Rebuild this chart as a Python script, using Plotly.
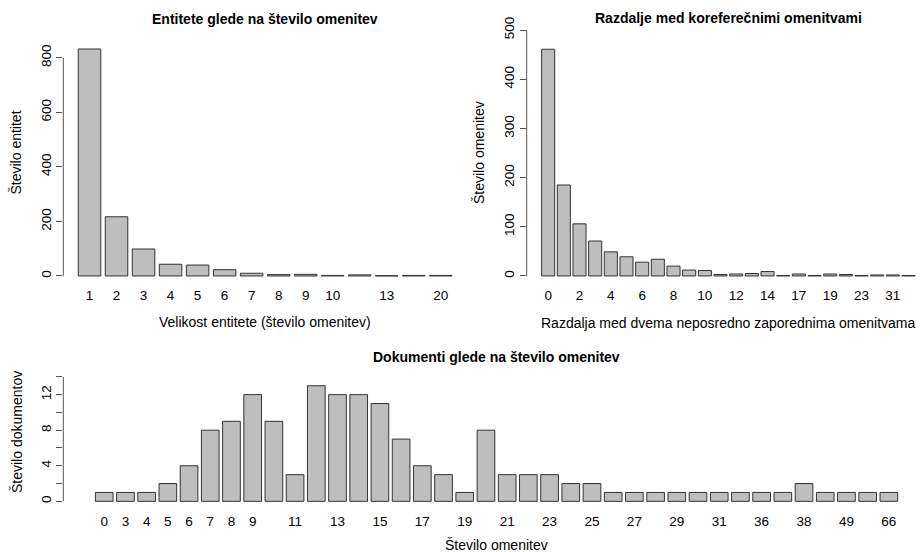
import plotly.graph_objects as go

W, H = 920, 552

# ---------------- data ----------------
ent_sizes = ["1", "2", "3", "4", "5", "6", "7", "8", "9", "10", "11", "13", "16", "20"]
ent_counts = [832, 217, 99, 43, 40, 23, 10, 5, 6, 2, 4, 1, 2, 2]
ent_labels = ["1", "2", "3", "4", "5", "6", "7", "8", "9", "10", "13", "20"]

dist_vals = [str(i) for i in range(15)] + ["16", "17", "18", "19", "21", "23", "26", "31", "42"]
dist_counts = [461, 185, 106, 71, 49, 39, 28, 34, 20, 12, 11, 3, 4, 5, 9,
               1, 4, 1, 4, 3, 1, 2, 2, 1]
dist_labels = ["0", "2", "4", "6", "8", "10", "12", "14", "17", "19", "23", "31"]

doc_mentions = ["0", "3", "4", "5", "6", "7", "8", "9"] + [str(i) for i in range(10, 32)] + \
               ["33", "36", "37", "38", "44", "49", "55", "66"]
doc_counts = [1, 1, 1, 2, 4, 8, 9, 12,
              9, 3, 13, 12, 12, 11, 7, 4, 3, 1, 8, 3, 3, 3, 2, 2, 1, 1, 1, 1, 1, 1,
              1, 1, 1, 2, 1, 1, 1, 1]
doc_labels = ["0", "3", "4", "5", "6", "7", "8", "9", "11", "13", "15", "17", "19", "21",
              "23", "25", "27", "29", "31", "36", "38", "49", "66"]

ent_yticks = [0, 200, 400, 600, 800]
dist_yticks = [0, 100, 200, 300, 400, 500]
doc_yticks = [0, 4, 8, 12]
doc_yminor = [0, 2, 4, 6, 8, 10, 12, 14]

# ---------------- styling ----------------
FONT = "Liberation Sans, Arial, Helvetica, sans-serif"
BAR_FILL = "#BEBEBE"
BAR_LINE = "#333333"
AX_COL = "#555555"
TICK_FS = 13.5
LAB_FS = 14
MAIN_FS = 14


def xrange_dom(n, px0, px1, clip=W):
    span = n - 1 + 5 / 6
    lo = -5 / 12 - 0.04 * span
    hi = n - 1 + 5 / 12 + 0.04 * span
    if px1 > clip:
        hi = lo + (hi - lo) * (clip - px0) / (px1 - px0)
        px1 = clip
    return [lo, hi], [px0 / W, px1 / W]


def ydom(top_px, bot_px):
    return [1 - bot_px / H, 1 - top_px / H]


fig = go.Figure()

panels = [
    dict(cats=ent_sizes, vals=ent_counts, labels=ent_labels, xpx=(63.3, 467.0),
         yrange=[-36, 936], ypx=(20.6, 285.8), yticks=ent_yticks, minor=None, ax="", top=800),
    dict(cats=dist_vals, vals=dist_counts, labels=dist_labels, xpx=(526.7, 930.0),
         yrange=[-20, 520], ypx=(20.2, 285.8), yticks=dist_yticks, minor=None, ax="2", top=500),
    dict(cats=doc_mentions, vals=doc_counts, labels=doc_labels, xpx=(63.3, 929.8),
         yrange=[-1.12, 15.3], ypx=(365.3, 511.3), yticks=doc_yticks, minor=doc_yminor, ax="3", top=14),
]

shapes = []
for p in panels:
    ax = p["ax"]
    xr, xd = xrange_dom(len(p["cats"]), *p["xpx"])
    fig.add_trace(go.Bar(
        x=p["cats"], y=p["vals"], xaxis="x" + ax, yaxis="y" + ax,
        marker=dict(color=BAR_FILL, line=dict(color=BAR_LINE, width=1)),
        showlegend=False, hoverinfo="x+y"))
    xkey = "xaxis" + ax
    ykey = "yaxis" + ax
    fig.layout[xkey] = dict(
        type="category", categoryorder="array", categoryarray=p["cats"],
        range=xr, domain=xd, anchor="y" + ax, automargin=False,
        tickmode="array", tickvals=p["labels"], ticktext=p["labels"],
        showline=False, showgrid=False, zeroline=False, ticks="",
        tickfont=dict(family=FONT, size=TICK_FS, color="#000"),
        fixedrange=True)
    ydict = dict(
        range=p["yrange"], domain=ydom(*p["ypx"]), anchor="x" + ax, automargin=False,
        tickmode="array", tickvals=p["yticks"], ticktext=[str(v) for v in p["yticks"]],
        tickangle=-90, ticks="outside", ticklen=6, tickcolor=AX_COL, tickwidth=1,
        showline=False, showgrid=False, zeroline=False,
        tickfont=dict(family=FONT, size=TICK_FS, color="#000"),
        fixedrange=True)
    if p["minor"]:
        ydict["minor"] = dict(tickvals=p["minor"], ticks="outside", ticklen=6,
                              tickcolor=AX_COL, tickwidth=1, showgrid=False)
    fig.layout[ykey] = ydict
    shapes.append(dict(type="line", xref="x" + ax + " domain", yref="y" + ax,
                       x0=0, x1=0, y0=0, y1=p["top"],
                       line=dict(color=AX_COL, width=1)))


def ann(text, xpx, ypx, size, bold=False, angle=0):
    return dict(text=("<b>%s</b>" % text) if bold else text,
                xref="paper", yref="paper", x=xpx / W, y=1 - ypx / H,
                xanchor="center", yanchor="middle", showarrow=False, textangle=angle,
                font=dict(family=FONT, size=size, color="#000"))


annotations = [
    ann("Entitete glede na število omenitev", 265, 19, MAIN_FS, bold=True),
    ann("Razdalje med koreferečnimi omenitvami", 728, 18, MAIN_FS, bold=True),
    ann("Dokumenti glede na število omenitev", 496, 357, MAIN_FS, bold=True),
    ann("Velikost entitete (število omenitev)", 265, 322, LAB_FS),
    ann("Razdalja med dvema neposredno zaporednima omenitvama", 728, 323, LAB_FS),
    ann("Število omenitev", 496, 545, LAB_FS),
    ann("Število entitet", 15.5, 153, LAB_FS, angle=-90),
    ann("Število omenitev", 479, 153, LAB_FS, angle=-90),
    ann("Število dokumentov", 17, 432, LAB_FS, angle=-90),
]

fig.update_layout(
    template="none",
    width=W, height=H,
    margin=dict(l=0, r=0, t=0, b=0, autoexpand=False),
    paper_bgcolor="white", plot_bgcolor="white",
    bargap=1 / 6,
    shapes=shapes, annotations=annotations,
    font=dict(family=FONT, color="#000"),
)

fig.write_html("out.html",
               config={"displayModeBar": False},
               post_script="document.body.style.margin='0';document.body.style.padding='0';")
